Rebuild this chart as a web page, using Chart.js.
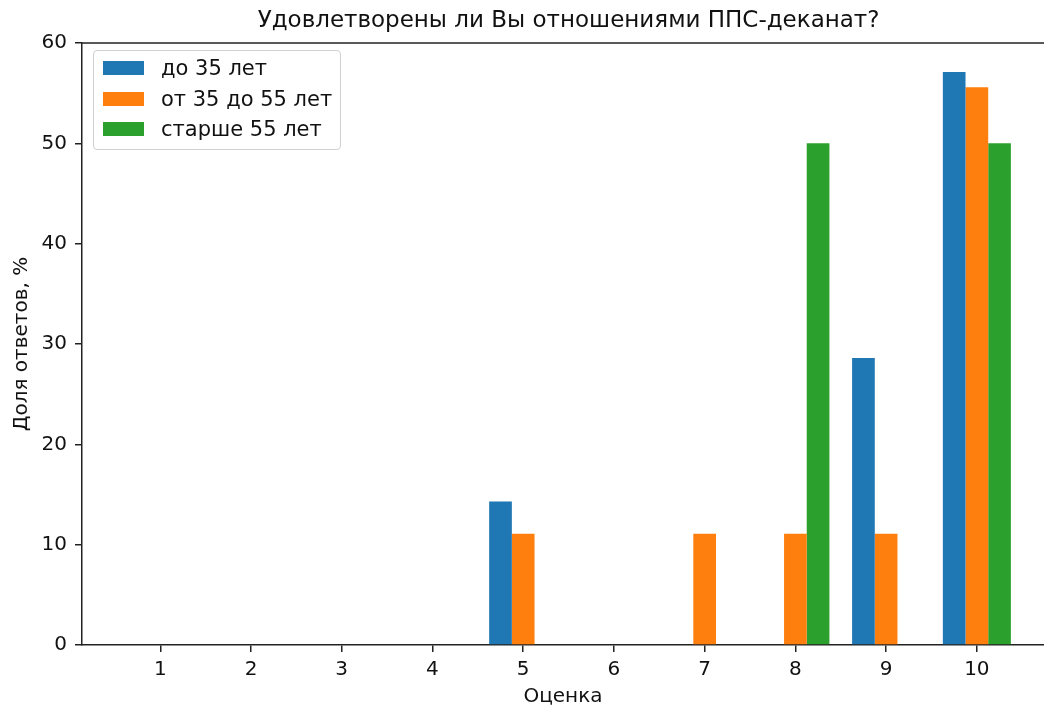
<!DOCTYPE html>
<html>
<head>
<meta charset="utf-8">
<script src="https://cdn.jsdelivr.net/npm/chart.js@4.4.0/dist/chart.umd.min.js"></script>
<style>
  html, body { margin: 0; padding: 0; background: #fff; overflow: hidden; }
  #wrap { position: relative; width: 1044px; height: 709px; }
  #legend {
    position: absolute; left: 93px; top: 50px; width: 248px; height: 100px;
    border: 1px solid #d0d0d0; border-radius: 4px; background: rgba(255,255,255,0.8);
    font-family: "DejaVu Sans", sans-serif; font-size: 21px; color: #111;
    box-sizing: border-box; padding-top: 2px;
  }
  #legend .row { display: flex; align-items: center; height: 30.5px; }
  #legend .sw { width: 41px; height: 14px; margin-left: 9px; margin-right: 17px; }
</style>
</head>
<body>
<div id="wrap">
  <canvas id="chart" width="1044" height="709"></canvas>
  <div id="legend"></div>
</div>
<script>
const titleText = 'Удовлетворены ли Вы отношениями ППС-деканат?';
const xTitle = 'Оценка';
const yTitle = 'Доля ответов, %';

const grades = [1, 2, 3, 4, 5, 6, 7, 8, 9, 10];
const seriesNames = ['до 35 лет', 'от 35 до 55 лет', 'старше 55 лет'];
const seriesColors = ['#1f77b4', '#ff7f0e', '#2ca02c'];

const under35 = [0, 0, 0, 0, 14.3, 0, 0, 0, 28.6, 57.1];
const from35to55 = [0, 0, 0, 0, 11.1, 0, 11.1, 11.1, 11.1, 55.6];
const over55 = [0, 0, 0, 0, 0, 0, 0, 50, 0, 50];

const yTicks = [0, 10, 20, 30, 40, 50, 60];

const seriesValues = [under35, from35to55, over55];

const font = { family: '"DejaVu Sans", sans-serif', size: 20 };
const textColor = '#111';
const lineColor = '#222';

// top spine and a title centred over the (partly cropped) axes, matplotlib style
const frame = {
  id: 'frame',
  afterDraw(chart) {
    const { ctx, chartArea, scales } = chart;
    ctx.save();
    ctx.strokeStyle = lineColor;
    ctx.lineWidth = 1.5;
    ctx.beginPath();
    ctx.moveTo(chartArea.left, chartArea.top);
    ctx.lineTo(chartArea.right, chartArea.top);
    ctx.stroke();

    ctx.fillStyle = textColor;
    ctx.font = '23px "DejaVu Sans", sans-serif';
    ctx.textAlign = 'center';
    ctx.textBaseline = 'middle';
    ctx.fillText(titleText, scales.x.getPixelForValue(5.5), 21);
    ctx.restore();
  }
};

const chart = new Chart(document.getElementById('chart'), {
  type: 'bar',
  data: {
    datasets: seriesNames.map((name, i) => ({
      label: name,
      data: grades.map((g, j) => ({ x: g, y: seriesValues[i][j] })),
      backgroundColor: seriesColors[i],
      borderWidth: 0,
      categoryPercentage: 0.75,
      barPercentage: 1
    }))
  },
  options: {
    responsive: false,
    animation: false,
    layout: { padding: { left: 4, right: 0, top: 43, bottom: 0 } },
    plugins: {
      legend: { display: false },
      tooltip: { enabled: false },
      title: { display: false }
    },
    scales: {
      x: {
        type: 'linear',
        min: 0.1375,
        max: 10.74,
        offset: false,
        afterBuildTicks: (scale) => { scale.ticks = grades.map(v => ({ value: v })); },
        afterFit: (scale) => { scale.height = 64; },
        ticks: { color: textColor, font, padding: 6, maxRotation: 0, autoSkip: false },
        grid: { offset: false, drawOnChartArea: false, drawTicks: true, tickLength: 7, color: lineColor, lineWidth: 1.5 },
        border: { display: true, color: lineColor, width: 1.5 },
        title: { display: true, text: xTitle, color: textColor, font, padding: { top: 0, bottom: 0 } }
      },
      y: {
        min: 0,
        max: 60,
        afterBuildTicks: (scale) => { scale.ticks = yTicks.map(v => ({ value: v })); },
        afterFit: (scale) => { scale.width = 78; },
        ticks: { color: textColor, font, padding: 8 },
        grid: { drawOnChartArea: false, drawTicks: true, tickLength: 7, color: lineColor, lineWidth: 1.5 },
        border: { display: true, color: lineColor, width: 1.5 },
        title: { display: true, text: yTitle, color: textColor, font, padding: { top: 6, bottom: 0 } }
      }
    }
  },
  plugins: [frame]
});

const legendEl = document.getElementById('legend');
chart.data.datasets.forEach((ds) => {
  const row = document.createElement('div');
  row.className = 'row';
  const sw = document.createElement('span');
  sw.className = 'sw';
  sw.style.background = ds.backgroundColor;
  const label = document.createElement('span');
  label.textContent = ds.label;
  row.appendChild(sw);
  row.appendChild(label);
  legendEl.appendChild(row);
});
</script>
</body>
</html>
